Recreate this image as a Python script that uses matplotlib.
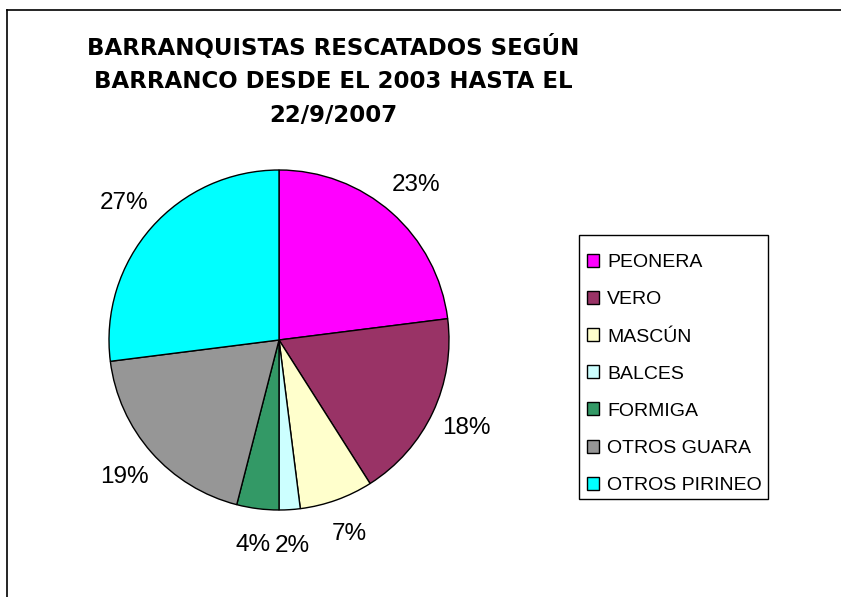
import matplotlib
matplotlib.use("Agg")
import matplotlib.pyplot as plt
from matplotlib.lines import Line2D
from matplotlib.patches import Rectangle

# data
categories = ["PEONERA", "VERO", "MASCÚN", "BALCES", "FORMIGA", "OTROS GUARA", "OTROS PIRINEO"]
percentages = [23, 18, 7, 2, 4, 19, 27]
colors = ["#FF00FF", "#993366", "#FFFFCC", "#CCFFFF", "#339966", "#969696", "#00FFFF"]
title = "BARRANQUISTAS RESCATADOS SEGÚN\nBARRANCO DESDE EL 2003 HASTA EL\n22/9/2007"

W, H = 841, 597
fig = plt.figure(figsize=(W / 100, H / 100), dpi=100)
fig.patch.set_facecolor("white")

# pie centre approx (279, 340) px, radius 170 px
r_px = 170
cx, cy = 279, 340
half = 1.25 * r_px
ax = fig.add_axes([(cx - half) / W, (H - cy - half) / H, 2 * half / W, 2 * half / H])

wedges, texts, autotexts = ax.pie(
    percentages,
    colors=colors,
    startangle=90,
    counterclock=False,
    autopct="%1.0f%%",
    pctdistance=1.215,
    wedgeprops=dict(edgecolor="black", linewidth=1.0),
    textprops=dict(fontsize=17.5, family="Liberation Sans", color="black"),
)
ax.set_xlim(-1.25, 1.25)
ax.set_ylim(-1.25, 1.25)
ax.set_aspect("equal")

fig.text(333 / W, 1 - 81 / H, title, ha="center", va="center", multialignment="center",
         fontsize=16.5, fontweight="bold", family="DejaVu Sans", linespacing=1.58)

# legend box: (579, 235) to (768, 499) px
lx0, ly0, lx1, ly1 = 579, 235, 768, 499
fig.add_artist(Rectangle((lx0 / W, 1 - ly1 / H), (lx1 - lx0) / W, (ly1 - ly0) / H,
                         transform=fig.transFigure, facecolor="white",
                         edgecolor="black", linewidth=1.0))
leg = fig.legend(
    wedges, categories,
    loc="center left", bbox_to_anchor=((lx0 + 2) / W, 1 - ((ly0 + ly1) / 2 + 7) / H),
    frameon=False,
    prop=dict(family="Liberation Sans", size=14),
    handlelength=0.65, handleheight=0.65, handletextpad=0.4,
    labelspacing=1.02, borderpad=0.3, borderaxespad=0,
)

# outer chart-area frame (only top and left visible in the crop)
fig.add_artist(Line2D([6.5 / W, 1], [1 - 10 / H, 1 - 10 / H], color="black", linewidth=1.2))
fig.add_artist(Line2D([6.5 / W, 6.5 / W], [0, 1 - 10 / H], color="black", linewidth=1.2))

fig.savefig("out.png", dpi=100, facecolor="white")
